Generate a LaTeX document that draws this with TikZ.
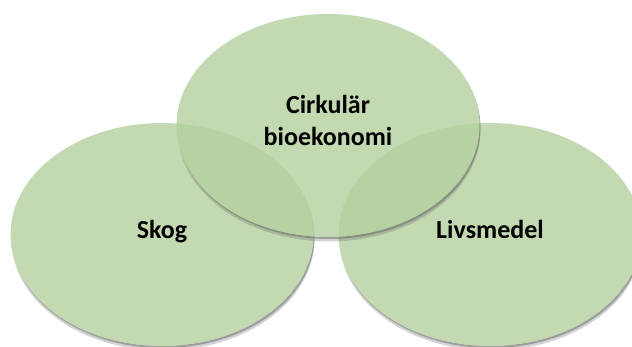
\documentclass[tikz,border=0pt]{standalone}
\usepackage{fontspec}
\setmainfont{Carlito}
\usetikzlibrary{shapes.geometric, positioning}
\definecolor{vennfill}{RGB}{180,208,158}
\definecolor{shadowgray}{RGB}{105,105,105}
\newcommand{\vennstrut}{\rule[-10pt]{0pt}{28pt}}
\tikzstyle{vennset} = [ellipse, minimum width=303pt, minimum height=223pt, inner sep=0pt, outer sep=0pt, fill=vennfill, fill opacity=0.8, text opacity=1, text=black, align=center, font=\bfseries\fontsize{26pt}{31.3pt}\selectfont, execute at begin node=\vennstrut, execute at end node=\vennstrut]
\tikzset{venn shadow/.style={
        append after command={
            \pgfextra
            \begin{scope}[even odd rule]
                \clip (-20,-20) rectangle (660,370) (\tikzlastnode.center) ellipse [x radius=151.5, y radius=111.5];
                \fill[shadowgray, opacity=0.5] ([shift={(1,-2)}]\tikzlastnode.center) ellipse [x radius=151.5, y radius=111.5];
                \fill[shadowgray, opacity=0.3] ([shift={(1,-4.5)}]\tikzlastnode.center) ellipse [x radius=151.5, y radius=111.5];
            \end{scope}
            \endpgfextra}
    }
}
\begin{document}
\begin{tikzpicture}[x=1pt, y=1pt, node distance=109pt]
                \useasboundingbox (0,0) rectangle (632,347);
                \clip (0,0) rectangle (632,347);
                \node (skog) [vennset, venn shadow] at (162,112.5) {Skog};
                \node (livsmedel) [vennset, venn shadow, right of=skog, node distance=328pt] {Livsmedel};
                \node (ring) [vennset, venn shadow, above of=skog, xshift=166pt] {Cirkulär\\bioekonomi};
            \end{tikzpicture}
\end{document}
